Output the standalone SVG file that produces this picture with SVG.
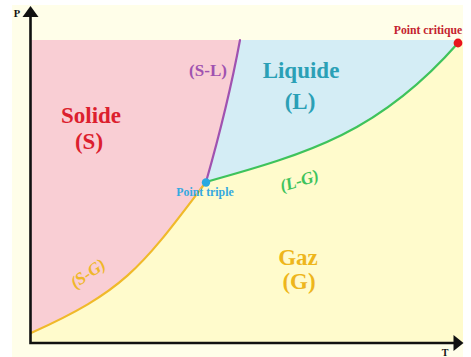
<svg xmlns="http://www.w3.org/2000/svg" width="471" height="357" viewBox="0 0 471 357">
<style>
text{font-family:"Liberation Serif","Times New Roman",serif;font-weight:bold}
.big{font-size:23px;text-anchor:middle}
.curve{fill:none;stroke-width:2.2;stroke-linecap:round}
.axis{stroke:#111;stroke-width:2.6;fill:none}
</style>
<rect x="0" y="0" width="471" height="357" fill="#ffffff"/>
<rect x="12" y="5" width="451" height="352" fill="#fffee9"/>
<g id="regions">
<rect id="gas-region" x="31" y="40" width="432" height="303" fill="#fffbcc"/>
<path id="solid-region" d="M31,40 L240,40 Q228,105 206,182 C141.5,266.9 126.2,290.2 31,333 Z" fill="#f9ced4"/>
<path id="liquid-region" d="M240,40 L458,40 L458,43 C380,132 310,153 206,182 Q228,105 240,40 Z" fill="#d4edf5"/>
</g>
<g id="connectors">
<path id="sl" class="curve" stroke="#a052b0" d="M240,40 Q228,105 206,182"/>
<path id="sg" class="curve" stroke="#f0b92a" d="M206,182 C141.5,266.9 126.2,290.2 31,333"/>
<path id="lg" class="curve" stroke="#3ec35c" d="M206,182 C310,153 380,132 458,43"/>
</g>
<g id="axes">
<path class="axis" d="M30.5,15 L30.5,343 L455,343"/>
<polygon points="30.5,6 22.5,17 38.5,17" fill="#111"/>
<polygon points="463.5,343 453.5,335 453.5,351" fill="#111"/>
<text x="17" y="17" font-size="10.5" text-anchor="middle" fill="#111">P</text>
<text x="445" y="356" font-size="10" text-anchor="middle" fill="#111">T</text>
</g>
<g id="solide">
<text class="big" x="91" y="123" fill="#dc1f2e">Solide</text>
<text class="big" x="89" y="149" fill="#dc1f2e">(S)</text>
</g>
<g id="liquide">
<text class="big" x="301" y="78" fill="#2ba0b6">Liquide</text>
<text class="big" x="300" y="109" fill="#2ba0b6">(L)</text>
</g>
<g id="gaz">
<text class="big" x="298" y="265" fill="#eeb61c">Gaz</text>
<text class="big" x="299" y="289" fill="#eeb61c">(G)</text>
</g>
<g id="label-sl">
<text x="208" y="76" font-size="17" text-anchor="middle" fill="#a052b0">(S-L)</text>
</g>
<g id="label-lg">
<text x="301" y="186" font-size="17" font-style="italic" text-anchor="middle" fill="#3ec35c" transform="rotate(-17 301 186)">(L-G)</text>
</g>
<g id="label-sg">
<text x="91" y="278" font-size="17" font-style="italic" text-anchor="middle" fill="#efb72a" transform="rotate(-35 91 278)">(S-G)</text>
</g>
<g id="point-triple">
<circle cx="206" cy="182.5" r="4.2" fill="#29a9e1"/>
<text x="205" y="196" font-size="11.8" text-anchor="middle" fill="#35a9e0">Point triple</text>
</g>
<g id="point-critique">
<circle cx="458" cy="43" r="4.4" fill="#e8141e"/>
<text x="428" y="34" font-size="11.7" text-anchor="middle" fill="#c4232f">Point critique</text>
</g>
</svg>
